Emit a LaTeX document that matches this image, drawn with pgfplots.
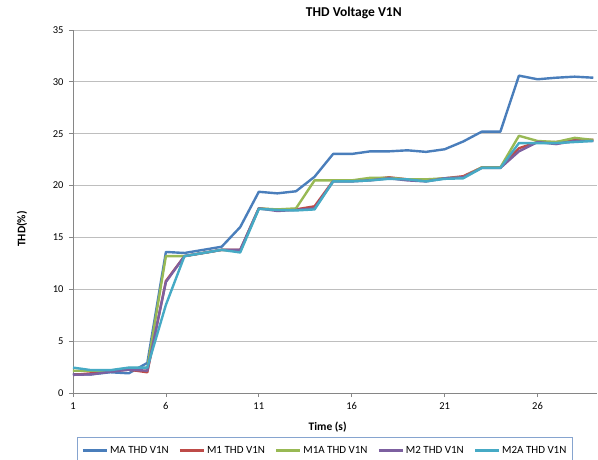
\documentclass[border=0pt]{standalone}
\usepackage{fontspec}
\setmainfont{Carlito}
\usepackage{pgfplots}
\pgfplotsset{compat=1.18}
\definecolor{cMA}{RGB}{74,126,187}
\definecolor{cM1}{RGB}{190,75,72}
\definecolor{cM1A}{RGB}{152,185,84}
\definecolor{cM2}{RGB}{125,96,160}
\definecolor{cM2A}{RGB}{70,170,197}
\definecolor{axgray}{RGB}{134,134,134}
\definecolor{gridgray}{RGB}{190,190,190}
\definecolor{legborder}{RGB}{134,164,207}
\begin{document}
\begin{tikzpicture}
\begin{axis}[
  name=ax, at={(0,0)}, anchor=south west,
  scale only axis, width=524pt, height=363pt,
  xmin=1, xmax=29.2, ymin=0, ymax=35,
  xtick={1,6,11,16,21,26}, ytick={0,5,...,35},
  axis x line*=bottom, axis y line*=left,
  axis line style={axgray, line width=0.8pt, -},
  ymajorgrids, grid style={gridgray, line width=0.8pt},
  tick align=outside, major tick length=4pt,
  tick style={axgray, line width=0.8pt},
  tick label style={font=\fontsize{10.5}{12}\selectfont},
  yticklabel style={xshift=-2pt},
  xticklabel style={yshift=-2pt},
  /pgf/number format/assume math mode=true,
  title={\textbf{THD Voltage V1N}},
  title style={font=\fontsize{13.5}{15}\selectfont, at={(axis description cs:0.536,1)}, anchor=base, yshift=8pt},
  xlabel={\textbf{Time (s)}},
  ylabel={\textbf{THD(\%)}},
  label style={font=\fontsize{11.5}{13}\selectfont},
  xlabel style={at={(axis description cs:0.486,0)}, anchor=center, yshift=-34pt},
  ylabel style={at={(axis description cs:-0.0975,0.452)}, anchor=center},
  legend columns=5,
  legend style={at={(0.481,-0.121)}, anchor=north, draw=legborder, line width=0.6pt,
    font=\fontsize{11}{13}\selectfont, inner xsep=4pt, inner ysep=7pt,
    /tikz/every even column/.append style={column sep=8pt}},
  legend image code/.code={\draw[#1, line width=2.4pt] (0pt,0pt) -- (24pt,0pt);},
  every axis plot/.append style={line width=2.4pt, line join=round, no markers},
]
\addplot[cMA] coordinates {(1,1.8)(2,1.8)(3,2.0)(4,1.9)(5,2.9)(6,13.6)(7,13.5)(8,13.8)(9,14.1)(10,16.0)(11,19.4)(12,19.25)(13,19.45)(14,20.85)(15,23.05)(16,23.05)(17,23.3)(18,23.3)(19,23.4)(20,23.25)(21,23.5)(22,24.25)(23,25.2)(24,25.2)(25,30.6)(26,30.25)(27,30.4)(28,30.5)(29,30.4)};
\addlegendentry{MA THD V1N}
\addplot[cM1] coordinates {(1,1.75)(2,1.9)(3,2.1)(4,2.25)(5,2.0)(6,10.8)(7,13.2)(8,13.5)(9,13.8)(10,13.8)(11,17.8)(12,17.65)(13,17.7)(14,18.0)(15,20.45)(16,20.45)(17,20.6)(18,20.8)(19,20.6)(20,20.5)(21,20.7)(22,20.9)(23,21.75)(24,21.75)(25,23.6)(26,24.2)(27,24.2)(28,24.4)(29,24.4)};
\addlegendentry{M1 THD V1N}
\addplot[cM1A] coordinates {(1,2.15)(2,2.15)(3,2.15)(4,2.4)(5,2.4)(6,13.2)(7,13.2)(8,13.5)(9,13.8)(10,13.7)(11,17.8)(12,17.7)(13,17.8)(14,20.5)(15,20.5)(16,20.5)(17,20.75)(18,20.75)(19,20.6)(20,20.6)(21,20.7)(22,20.8)(23,21.75)(24,21.75)(25,24.8)(26,24.3)(27,24.2)(28,24.6)(29,24.4)};
\addlegendentry{M1A THD V1N}
\addplot[cM2] coordinates {(1,1.75)(2,1.8)(3,2.05)(4,2.25)(5,2.15)(6,10.7)(7,13.2)(8,13.5)(9,13.8)(10,13.8)(11,17.8)(12,17.55)(13,17.65)(14,17.8)(15,20.4)(16,20.4)(17,20.5)(18,20.7)(19,20.5)(20,20.4)(21,20.7)(22,20.8)(23,21.7)(24,21.7)(25,23.3)(26,24.2)(27,24.0)(28,24.3)(29,24.3)};
\addlegendentry{M2 THD V1N}
\addplot[cM2A] coordinates {(1,2.45)(2,2.2)(3,2.2)(4,2.45)(5,2.45)(6,8.5)(7,13.2)(8,13.5)(9,13.8)(10,13.55)(11,17.75)(12,17.65)(13,17.6)(14,17.7)(15,20.4)(16,20.4)(17,20.5)(18,20.65)(19,20.6)(20,20.4)(21,20.65)(22,20.7)(23,21.7)(24,21.7)(25,24.1)(26,24.1)(27,24.1)(28,24.2)(29,24.3)};
\addlegendentry{M2A THD V1N}
\end{axis}
\pgfresetboundingbox
\path (-73pt,-66pt) rectangle (525pt,393pt);
\end{tikzpicture}
\end{document}
